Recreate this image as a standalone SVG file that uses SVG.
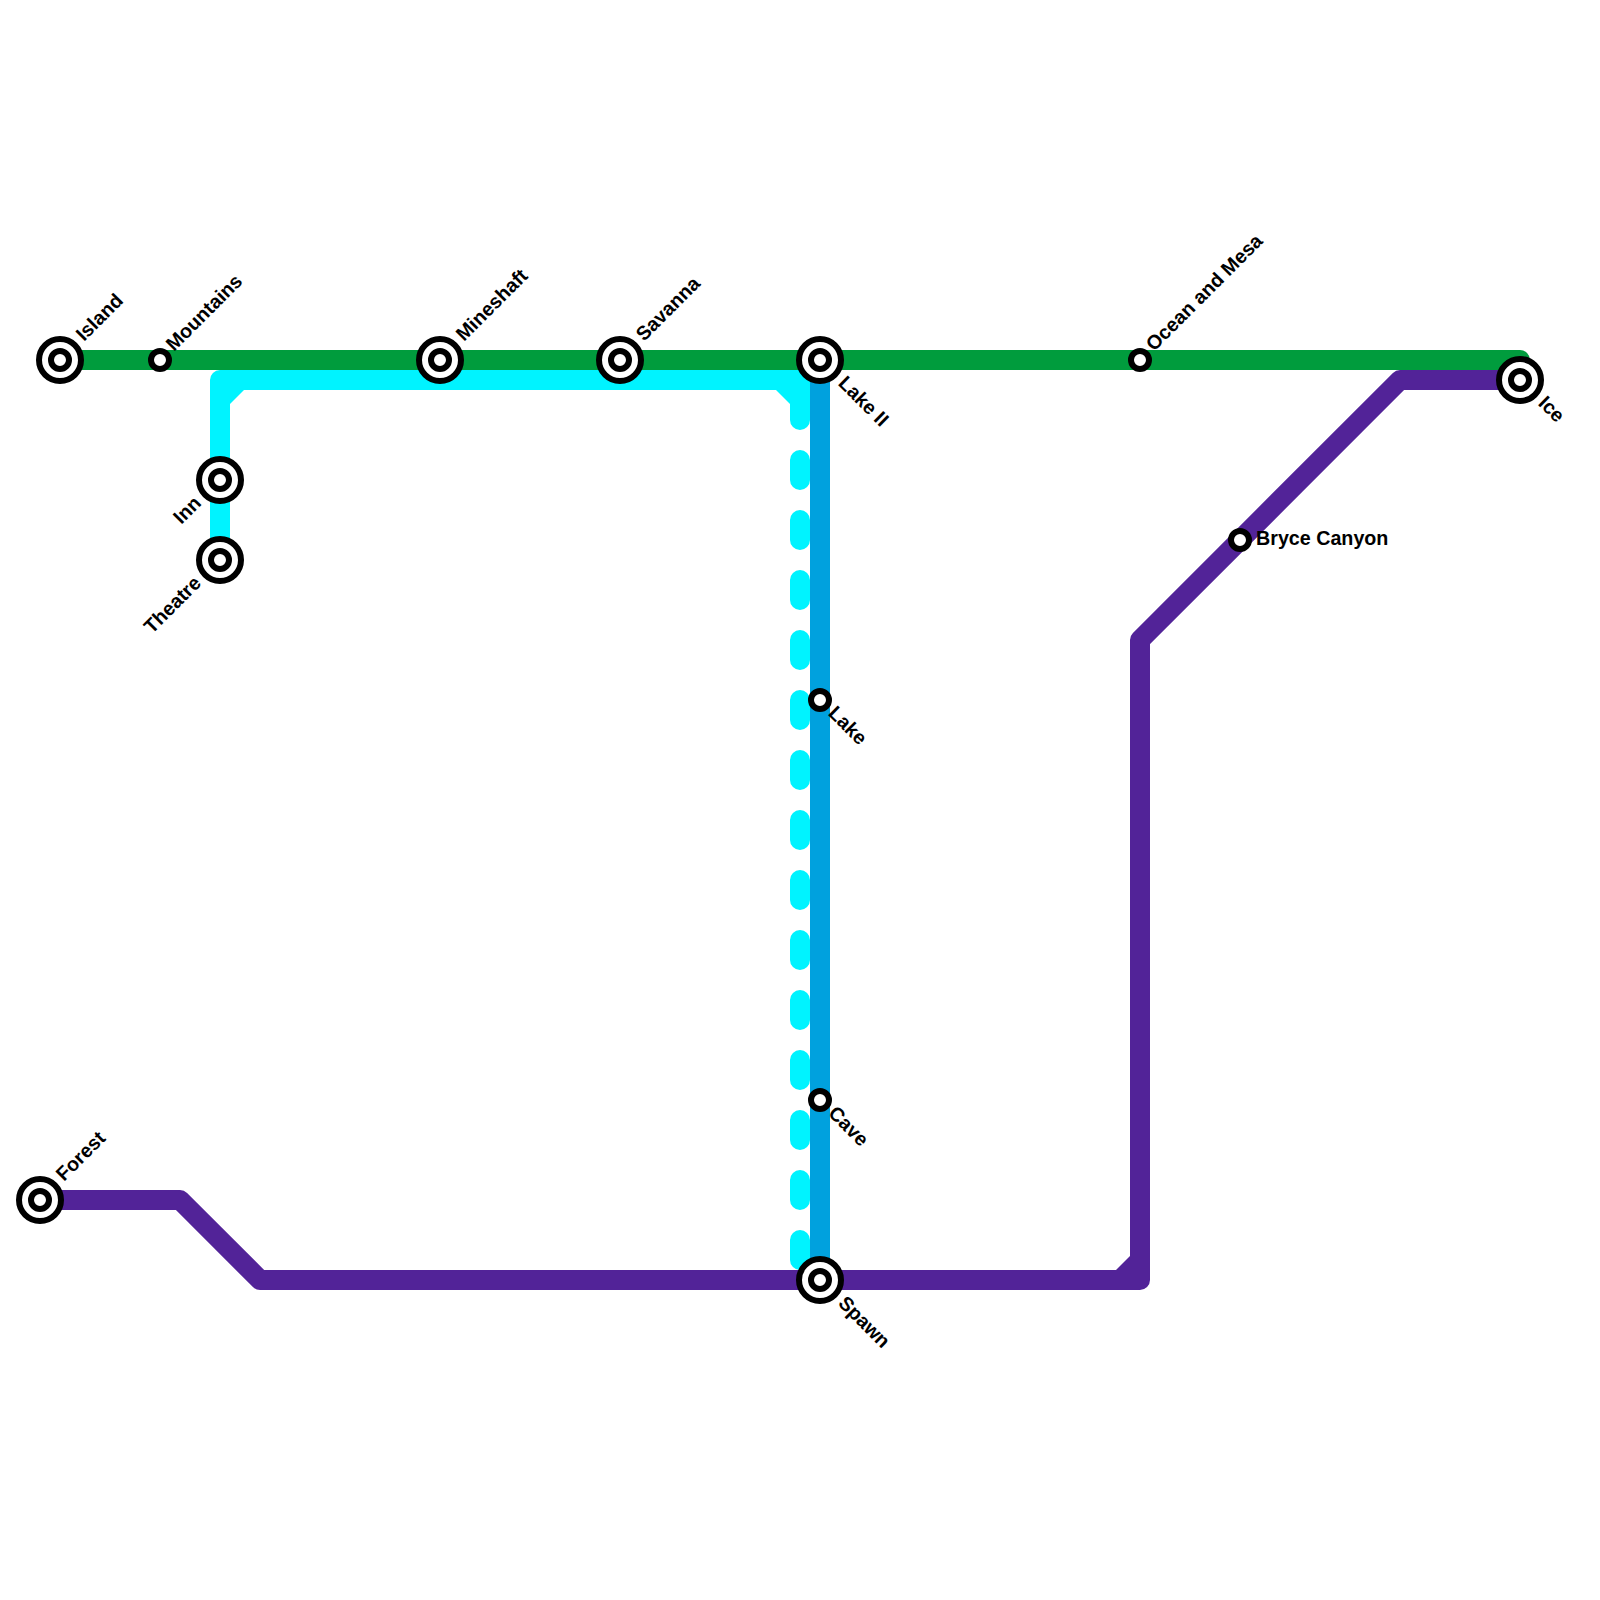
<svg xmlns="http://www.w3.org/2000/svg" width="1600" height="1600" viewBox="0 0 1600 1600">
<style>
.line{fill:none;stroke-width:20;stroke-linejoin:round}
.green{stroke:#009c3d}.cyan{stroke:#00f3ff}.blue{stroke:#00a1de}.purple{stroke:#522398}
.dash{stroke-dasharray:20 40;stroke-linecap:round}
.outer{fill:#fff;stroke:#000;stroke-width:6}
.inner{fill:#fff;stroke:#000;stroke-width:6}
text{font-family:"Liberation Sans",Arial,sans-serif;font-weight:700;font-size:19.7px;fill:#000}
.end{text-anchor:end}
</style>
<rect width="1600" height="1600" fill="#fff"/>
<g id="connectors">
<polyline class="line green" points="60,360 1520,360 1520,380"/>
<polyline class="line cyan" points="220,560 220,380 800,380 800,400"/>
<polygon fill="#00f3ff" points="230,390 244,390 230,404"/>
<polygon fill="#00f3ff" points="776,390 790,390 790,404"/>
<line class="line cyan dash" x1="800" y1="400" x2="800" y2="1280"/>
<line class="line blue" x1="820" y1="360" x2="820" y2="1280"/>
<polyline class="line purple" points="40,1200 180,1200 260,1280 1140,1280 1140,640 1400,380 1520,380"/>
<polygon fill="#522398" points="1116,1270 1130,1270 1130,1256"/>
</g>
<g id="island"><circle class="outer" cx="60" cy="360" r="21"/><circle class="inner" cx="60" cy="360" r="9"/><text transform="translate(84,342) rotate(-45)">Island</text></g>
<g id="mountains"><circle class="inner" cx="160" cy="360" r="9"/><text transform="translate(174,352) rotate(-45)">Mountains</text></g>
<g id="mineshaft"><circle class="outer" cx="440" cy="360" r="21"/><circle class="inner" cx="440" cy="360" r="9"/><text transform="translate(464,342) rotate(-45)">Mineshaft</text></g>
<g id="savanna"><circle class="outer" cx="620" cy="360" r="21"/><circle class="inner" cx="620" cy="360" r="9"/><text transform="translate(644,342) rotate(-45)">Savanna</text></g>
<g id="lake-ii"><circle class="outer" cx="820" cy="360" r="21"/><circle class="inner" cx="820" cy="360" r="9"/><text transform="translate(841.5,380) rotate(45) translate(0,6)">Lake II</text></g>
<g id="ocean-and-mesa"><circle class="inner" cx="1140" cy="360" r="9"/><text transform="translate(1154,352) rotate(-45)">Ocean and Mesa</text></g>
<g id="ice"><circle class="outer" cx="1520" cy="380" r="21"/><circle class="inner" cx="1520" cy="380" r="9"/><text transform="translate(1541.5,400) rotate(45) translate(0,6)">Ice</text></g>
<g id="inn"><circle class="outer" cx="220" cy="480" r="21"/><circle class="inner" cx="220" cy="480" r="9"/><text class="end" transform="translate(198,500) rotate(-45) translate(0,6)">Inn</text></g>
<g id="theatre"><circle class="outer" cx="220" cy="560" r="21"/><circle class="inner" cx="220" cy="560" r="9"/><text class="end" transform="translate(198,580) rotate(-45) translate(0,6)">Theatre</text></g>
<g id="bryce-canyon"><circle class="inner" cx="1240" cy="540" r="9"/><text x="1256" y="545">Bryce Canyon</text></g>
<g id="lake"><circle class="inner" cx="820" cy="700" r="9"/><text transform="translate(831.5,710) rotate(45) translate(0,6)">Lake</text></g>
<g id="cave"><circle class="inner" cx="820" cy="1100" r="9"/><text transform="translate(831.5,1110) rotate(45) translate(0,6)">Cave</text></g>
<g id="forest"><circle class="outer" cx="40" cy="1200" r="21"/><circle class="inner" cx="40" cy="1200" r="9"/><text transform="translate(64,1182) rotate(-45)">Forest</text></g>
<g id="spawn"><circle class="outer" cx="820" cy="1280" r="21"/><circle class="inner" cx="820" cy="1280" r="9"/><text transform="translate(841.5,1300) rotate(45) translate(0,6)">Spawn</text></g>
</svg>
